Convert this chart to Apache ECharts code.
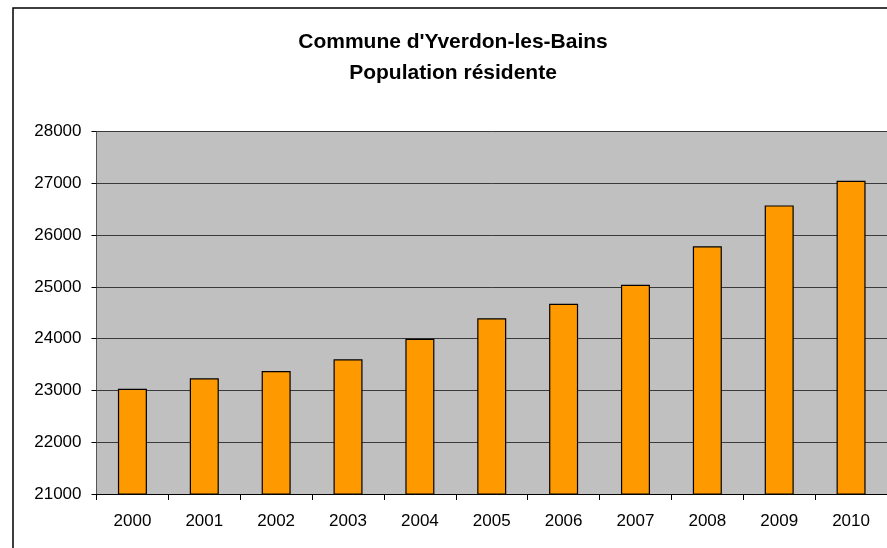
<!DOCTYPE html>
<html>
<head>
<meta charset="utf-8">
<script src="https://cdn.jsdelivr.net/npm/echarts@6/dist/echarts.min.js"></script>
<style>
html,body{margin:0;padding:0;background:#fff;}
#chart{width:887px;height:548px;}
</style>
</head>
<body>
<div id="chart"></div>
<script>
const titleLines = ["Commune d'Yverdon-les-Bains", "Population résidente"];
const years = ["2000","2001","2002","2003","2004","2005","2006","2007","2008","2009","2010"];
const population = [23033, 23234, 23375, 23600, 23998, 24392, 24674, 25041, 25782, 26573, 27048];
const yMin = 21000, yMax = 28000, yStep = 1000;

const chart = echarts.init(document.getElementById('chart'), null, {renderer: 'canvas'});
chart.setOption({
  backgroundColor: '#ffffff',
  animation: false,
  title: {
    text: titleLines.join('\n'),
    left: 448,
    top: 22,
    textAlign: 'center',
    textStyle: {
      fontFamily: 'Liberation Sans, Arial, sans-serif',
      fontWeight: 'bold',
      fontSize: 21,
      lineHeight: 31,
      color: '#000'
    }
  },
  graphic: [{
    type: 'rect',
    shape: {x: 13, y: 8, width: 900, height: 600},
    style: {fill: 'none', stroke: '#000', lineWidth: 1.5},
    z: 100
  }],
  grid: {
    left: 96.5, top: 131.5, right: -2, bottom: 54,
    show: true, backgroundColor: '#C0C0C0', borderWidth: 0
  },
  xAxis: {
    type: 'category',
    data: years,
    boundaryGap: true,
    axisLine: {show: true, lineStyle: {color: '#000', width: 1}},
    axisTick: {show: true, alignWithLabel: false, length: 6, inside: false, lineStyle: {color: '#000'}},
    axisLabel: {
      margin: 19,
      fontFamily: 'Liberation Sans, Arial, sans-serif',
      fontSize: 17,
      color: '#000'
    },
    splitLine: {show: false}
  },
  yAxis: {
    type: 'value',
    min: yMin, max: yMax, interval: yStep,
    axisLine: {show: true, lineStyle: {color: '#555', width: 1}},
    axisTick: {show: true, length: 5, lineStyle: {color: '#000'}},
    axisLabel: {
      margin: 15,
      formatter: v => String(v),
      fontFamily: 'Liberation Sans, Arial, sans-serif',
      fontSize: 17,
      color: '#000'
    },
    splitLine: {show: true, lineStyle: {color: '#3a3a3a', width: 1}}
  },
  series: [{
    type: 'bar',
    data: population,
    barWidth: 29,
    itemStyle: {color: '#FF9900', borderColor: '#000', borderWidth: 1.2}
  }]
});
</script>
</body>
</html>
